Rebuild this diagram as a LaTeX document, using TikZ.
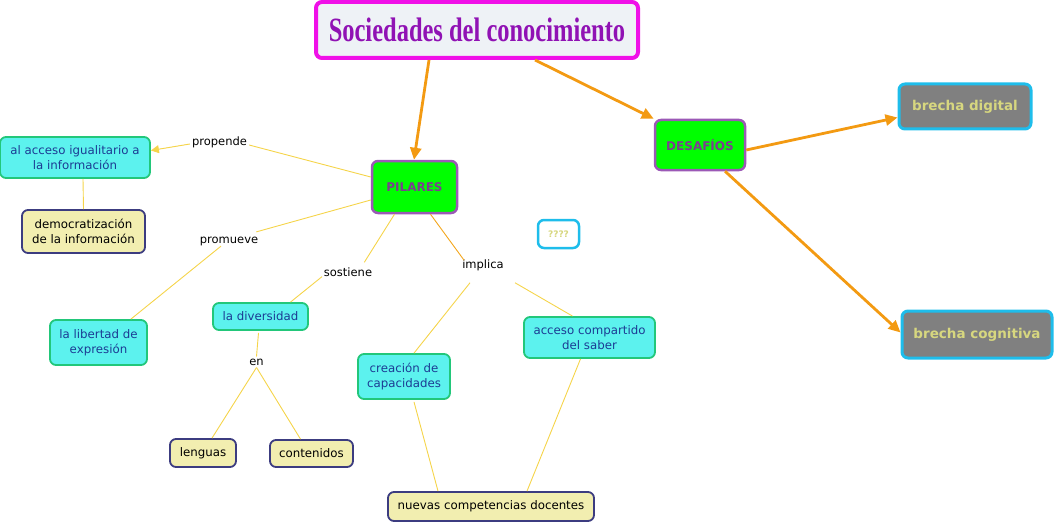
\documentclass[tikz,border=0pt]{standalone}
\usepackage{fontspec}
\setmainfont{DejaVu Sans}
\newfontfamily\titlefont[FakeStretch=0.72]{Liberation Serif}
\usetikzlibrary{arrows.meta}
\definecolor{magentab}{HTML}{F010E8}
\definecolor{titlefill}{HTML}{EEF2F6}
\definecolor{titletext}{HTML}{9012B4}
\definecolor{greenfill}{HTML}{00FF00}
\definecolor{purpleb}{HTML}{9B59B6}
\definecolor{purplet}{HTML}{7B3F8F}
\definecolor{grayfill}{HTML}{808080}
\definecolor{cyanb}{HTML}{1EBDEB}
\definecolor{khaki}{HTML}{D7D77F}
\definecolor{cyanfill}{HTML}{5CF2EE}
\definecolor{greenb}{HTML}{22C77A}
\definecolor{bluet}{HTML}{1C3C94}
\definecolor{yelfill}{HTML}{F2EEB0}
\definecolor{navyb}{HTML}{3C3C80}
\definecolor{linky}{HTML}{F5D44A}
\definecolor{orangea}{HTML}{F39A12}
\begin{document}
\begin{tikzpicture}[x=1pt,y=-1pt,
  base/.style={rounded corners=6pt, inner sep=0pt, align=center},
  titlebox/.style={base, draw=magentab, line width=4pt, fill=titlefill, text=titletext},
  mainbox/.style={base, draw=purpleb, line width=2.5pt, fill=greenfill, text=purplet, font=\fontsize{12}{14}\selectfont\bfseries},
  graybox/.style={base, draw=cyanb, line width=3pt, fill=grayfill, text=khaki, font=\fontsize{13.5}{16}\selectfont\bfseries},
  cyanbox/.style={base, draw=greenb, line width=1.8pt, fill=cyanfill, text=bluet, font=\fontsize{11.8}{15.5}\selectfont},
  yelbox/.style={base, draw=navyb, line width=1.8pt, fill=yelfill, text=black, font=\fontsize{11.8}{15.5}\selectfont},
  linklabel/.style={inner sep=2pt, text=black, font=\fontsize{11.5}{14}\selectfont},
  ylink/.style={draw=linky, line width=0.9pt},
  oarrow/.style={draw=orangea, line width=2.8pt, -{Triangle[length=12pt,width=11pt]}}
]
\useasboundingbox (0,0) rectangle (1054,524);

% main nodes
\node[titlebox, minimum width=322pt, minimum height=56pt] (title) at (477,30) {\titlefont\fontsize{34}{36}\selectfont\bfseries Sociedades del conocimiento};
\node[mainbox, minimum width=85pt, minimum height=52pt] (pilares) at (414.5,187) {PILARES};
\node[mainbox, minimum width=90pt, minimum height=50pt] (desafios) at (700,145) {DESAFÍOS};
\node[graybox, minimum width=132pt, minimum height=45pt] (digital) at (965,106.5) {brecha digital};
\node[graybox, minimum width=150pt, minimum height=47pt] (cognitiva) at (977,334.5) {brecha cognitiva};
\node[base, draw=cyanb, line width=2.5pt, fill=white, text=khaki, minimum width=41pt, minimum height=28pt, font=\fontsize{9}{11}\selectfont\bfseries] (q) at (558.5,234) {????};

\node[cyanbox, minimum width=150pt, minimum height=41pt] (acceso) at (75,157.5) {al acceso igualitario a\\la información};
\node[yelbox, minimum width=123pt, minimum height=43pt] (democ) at (83.5,231.5) {democratización\\de la información};
\node[cyanbox, minimum width=97pt, minimum height=45pt] (libertad) at (98.5,342.5) {la libertad de\\expresión};
\node[cyanbox, minimum width=95pt, minimum height=27pt] (divers) at (260.5,316.5) {la diversidad};
\node[yelbox, minimum width=66pt, minimum height=28pt] (lenguas) at (203,453) {lenguas};
\node[yelbox, minimum width=83pt, minimum height=27pt] (conten) at (311.5,453.5) {contenidos};
\node[cyanbox, minimum width=92pt, minimum height=45pt] (creacion) at (404,376.5) {creación de\\capacidades};
\node[cyanbox, minimum width=131pt, minimum height=41pt] (compart) at (589.5,337.5) {acceso compartido\\del saber};
\node[yelbox, minimum width=206pt, minimum height=29pt] (nuevas) at (491,506.5) {nuevas competencias docentes};

% link labels
\node[linklabel] (propende) at (219.5,142) {propende};
\node[linklabel] (promueve) at (229,241.5) {promueve};
\node[linklabel] (sostiene) at (348,272) {sostiene};
\node[linklabel] (implica) at (483,265) {implica};
\node[linklabel] (en) at (256.5,362) {en};

% orange arrows
\draw[oarrow] (title.south -| 429,0) -- (pilares.north -| 414,0);
\draw[oarrow] ([xshift=58pt]title.south) -- (desafios.north west);
\draw[oarrow] ([yshift=-5pt]desafios.east) -- ([yshift=-11pt]digital.west);
\draw[oarrow] ([xshift=25pt]desafios.south) -- ([yshift=2pt]cognitiva.west);

% yellow links
\draw[ylink] ([yshift=10pt]pilares.west) -- ([yshift=-3pt]propende.east);
\draw[ylink, -{Triangle[length=8pt,width=8pt]}, draw=linky, fill=linky] ([yshift=-2pt]propende.west) -- ([yshift=7pt]acceso.east);
\draw[ylink] ([yshift=-13pt]pilares.west) -- ([xshift=-4pt,yshift=3pt]promueve.north east);
\draw[ylink] ([xshift=-8pt,yshift=2pt]promueve.south) -- ([xshift=-17pt]libertad.north east);
\draw[ylink] ([xshift=-20pt]pilares.south) -- ([xshift=-10pt,yshift=3pt]sostiene.north east);
\draw[ylink] ([xshift=-26pt,yshift=2pt]sostiene.south) -- ([xshift=30pt]divers.north);
\draw[ylink, draw=orangea!80!linky] ([xshift=16pt]pilares.south) -- ([xshift=4pt,yshift=-3pt]implica.north west);
\draw[ylink] ([xshift=-13pt,yshift=-10pt]implica.south) -- ([xshift=10pt]creacion.north);
\draw[ylink] ([xshift=32pt,yshift=-10pt]implica.south) -- ([xshift=-17pt]compart.north);
\draw[ylink] ([xshift=8pt]acceso.south) -- (democ.north);
\draw[ylink] ([xshift=-2pt,yshift=-2pt]divers.south) -- (en.north);
\draw[ylink] (en.south) -- ([xshift=9pt]lenguas.north);
\draw[ylink] (en.south) -- ([xshift=-11pt]conten.north);
\draw[ylink] ([xshift=10pt,yshift=-2pt]creacion.south) -- ([xshift=-53pt]nuevas.north);
\draw[ylink] ([xshift=-9pt]compart.south) -- ([xshift=36pt]nuevas.north);
\end{tikzpicture}
\end{document}
